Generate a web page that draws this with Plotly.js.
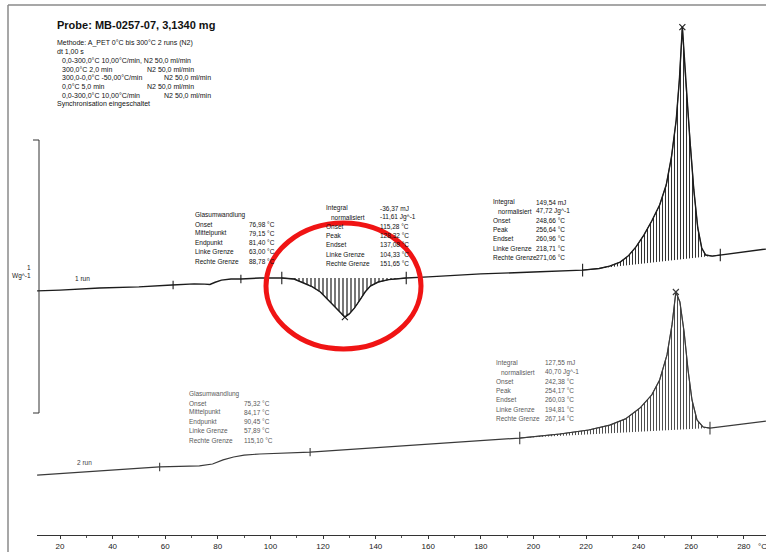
<!DOCTYPE html>
<html>
<head>
<meta charset="utf-8">
<script src="https://cdn.plot.ly/plotly-3.0.1.min.js"></script>
<style>
  html, body { margin: 0; padding: 0; background: #fff; }
  #dsc { width: 766px; height: 552px; }
</style>
</head>
<body>
<div id="dsc"></div>
<script>
// DSC heating runs of sample MB-0257-07 (temperature in °C, heat flow in W/g, endo up)
const run1T = [11.3, 20, 35, 50, 62.6, 71, 75, 77, 79, 81.4, 85, 88.8, 96, 104.33, 109, 113, 116, 119, 122, 125, 127, 128.32, 130, 132, 134, 136, 138, 141, 145, 151.65, 160, 180, 200, 218.71, 225, 229, 233, 236, 239, 242, 245, 248, 250.5, 252.5, 254.3, 255.5, 256.64, 258, 259.5, 261, 262.5, 264, 265.5, 268, 271.06, 280, 288.4];
const run1W = [0.904, 0.907, 0.915, 0.919, 0.926, 0.930, 0.929, 0.928, 0.936, 0.944, 0.948, 0.948, 0.952, 0.952, 0.948, 0.933, 0.919, 0.900, 0.870, 0.837, 0.819, 0.807, 0.819, 0.841, 0.870, 0.900, 0.922, 0.937, 0.946, 0.952, 0.956, 0.967, 0.974, 0.981, 0.987, 0.996, 1.011, 1.033, 1.067, 1.111, 1.163, 1.222, 1.296, 1.400, 1.537, 1.685, 1.881, 1.667, 1.463, 1.278, 1.137, 1.063, 1.037, 1.033, 1.037, 1.048, 1.059];

const run2T = [11.3, 35, 57.89, 73, 78, 82, 86, 90, 96, 115.1, 150, 172, 194.81, 210, 221, 229, 235, 240.5, 245, 248, 250.8, 252.7, 254.17, 255.7, 257.3, 258.8, 260.3, 262.2, 264.5, 267.14, 278.6, 288.4];
const run2W = [0.222, 0.237, 0.252, 0.256, 0.263, 0.278, 0.289, 0.296, 0.300, 0.307, 0.330, 0.344, 0.359, 0.374, 0.389, 0.407, 0.430, 0.470, 0.519, 0.574, 0.667, 0.778, 0.900, 0.863, 0.752, 0.611, 0.500, 0.426, 0.400, 0.396, 0.411, 0.422];

// evaluated transitions
const run1Tg = { onset: 76.98, mid: 79.15, end: 81.40, left: 63.00, right: 88.78 };
const run1Cryst = { integral: -36.37, norm: -11.61, onset: 115.28, peak: 128.32, endset: 137.08, left: 104.33, right: 151.65 };
const run1Melt = { integral: 149.54, norm: 47.72, onset: 248.66, peak: 256.64, endset: 260.96, left: 218.71, right: 271.06 };
const run2Tg = { onset: 75.32, mid: 84.17, end: 90.45, left: 57.89, right: 115.10 };
const run2Melt = { integral: 127.55, norm: 40.70, onset: 242.38, peak: 254.17, endset: 260.03, left: 194.81, right: 267.14 };

const tickVals = [20, 40, 60, 80, 100, 120, 140, 160, 180, 200, 220, 240, 260, 280];

const headerTitle = "Probe: MB-0257-07, 3,1340 mg";
const headerLines = [
  ["Methode: A_PET 0°C bis 300°C 2 runs (N2)", ""],
  ["dt 1,00 s", ""],
  ["  0,0-300,0°C 10,00°C/min, N2 50,0 ml/min", ""],
  ["  300,0°C 2,0 min", "N2 50,0 ml/min"],
  ["  300,0-0,0°C -50,00°C/min", "N2 50,0 ml/min"],
  ["  0,0°C 5,0 min", "N2 50,0 ml/min"],
  ["  0,0-300,0°C 10,00°C/min", "N2 50,0 ml/min"],
  ["Synchronisation eingeschaltet", ""]
];

// ---- helpers -------------------------------------------------------------
const W = 766, H = 552, MB = 17, PH = H - MB;
const px = x => x / W;                 // page pixel -> paper x
const py = y => (PH - y) / PH;         // page pixel -> paper y
const fmt = (v, unit) => v.toFixed(2).replace('.', ',') + ' ' + unit;

function interp(T, Y, t) {
  for (let i = 0; i < T.length - 1; i++) {
    if (t >= T[i] && t <= T[i + 1]) {
      const f = (t - T[i]) / (T[i + 1] - T[i]);
      return Y[i] + f * (Y[i + 1] - Y[i]);
    }
  }
  return t < T[0] ? Y[0] : Y[Y.length - 1];
}
function segment(T, Y, lo, hi) {
  const xs = [lo], ys = [interp(T, Y, lo)];
  T.forEach((t, i) => { if (t > lo && t < hi) { xs.push(t); ys.push(Y[i]); } });
  xs.push(hi); ys.push(interp(T, Y, hi));
  return { x: xs, y: ys };
}
function hatch(T, Y, lo, hi, color, size) {
  const s = segment(T, Y, lo, hi);
  return {
    x: s.x, y: s.y, mode: 'lines', fill: 'toself', hoverinfo: 'skip',
    line: { color: color, width: 0.8 },
    fillcolor: 'rgba(0,0,0,0)',
    fillpattern: { shape: '|', size: size, solidity: 0.3, fgcolor: color, bgcolor: 'rgba(0,0,0,0)' },
    showlegend: false
  };
}
function markers(T, Y, temps, symbol, size, color) {
  return {
    x: temps, y: temps.map(t => interp(T, Y, t)), mode: 'markers', hoverinfo: 'skip',
    marker: { symbol: symbol, size: size, color: color, line: { color: color, width: 1.1 } },
    showlegend: false
  };
}

// ---- traces --------------------------------------------------------------
const ink1 = '#1c1c1c', ink2 = '#3a3a3a';
const traces = [
  hatch(run1T, run1W, run1Cryst.left, run1Cryst.right, ink1, 4),
  hatch(run1T, run1W, run1Melt.left, run1Melt.right, ink1, 3),
  hatch(run2T, run2W, run2Melt.left, run2Melt.right, ink2, 3),
  { x: run1T, y: run1W, mode: 'lines', line: { color: ink1, width: 1.4 }, hoverinfo: 'skip', showlegend: false },
  { x: run2T, y: run2W, mode: 'lines', line: { color: ink2, width: 1.2 }, hoverinfo: 'skip', showlegend: false },
  markers(run1T, run1W, [run1Cryst.left, run1Cryst.right, run1Melt.left, run1Melt.right], 'line-ns', 9, ink1),
  markers(run1T, run1W, [run1Tg.left, run1Tg.right], 'line-ns', 6, ink1),
  markers(run1T, run1W, [run1Cryst.peak, run1Melt.peak], 'x-thin', 6, ink1),
  markers(run2T, run2W, [run2Melt.left, run2Melt.right], 'line-ns', 9, ink2),
  markers(run2T, run2W, [run2Tg.left, run2Tg.right], 'line-ns', 6, ink2),
  markers(run2T, run2W, [run2Melt.peak], 'x-thin', 6, ink2)
];

// ---- text ----------------------------------------------------------------
const FONT = 'Liberation Sans, Arial, sans-serif';
const ann = [];
function txt(x, y, s, size, color, extra) {
  ann.push(Object.assign({
    xref: 'paper', yref: 'paper', x: px(x), y: py(y), text: s, showarrow: false,
    xanchor: 'left', yanchor: 'middle', font: { family: FONT, size: size, color: color }
  }, extra || {}));
}

txt(55, 25, '<b>' + headerTitle + '</b>', 11, '#111');
headerLines.forEach((row, i) => {
  const y = 43 + i * 8.7;
  txt(55, y, row[0].replace(/^  /, ''), 7, '#111', { x: px(row[0].startsWith('  ') ? 60 : 55) });
  if (row[1]) txt(i % 2 === 1 ? 145 : 162, y, row[1], 7, '#111');
});

function block(x0, x1, y0, rows, color) {
  rows.forEach((r, i) => {
    const y = y0 + i * 9.2;
    txt(r[2] ? x0 + 5 : x0, y, r[0], 6.5, color);
    if (r[1]) txt(x1, y, r[1], 6.5, color);
  });
}
block(193, 247, 215, [
  ['Glasumwandlung', ''],
  ['Onset', fmt(run1Tg.onset, '°C')],
  ['Mittelpunkt', fmt(run1Tg.mid, '°C')],
  ['Endpunkt', fmt(run1Tg.end, '°C')],
  ['Linke Grenze', fmt(run1Tg.left, '°C')],
  ['Rechte Grenze', fmt(run1Tg.right, '°C')]
], '#111');
block(324, 378, 208, [
  ['Integral', fmt(run1Cryst.integral, 'mJ')],
  ['normalisiert', fmt(run1Cryst.norm, 'Jg^-1'), true],
  ['Onset', fmt(run1Cryst.onset, '°C')],
  ['Peak', fmt(run1Cryst.peak, '°C')],
  ['Endset', fmt(run1Cryst.endset, '°C')],
  ['Linke Grenze', fmt(run1Cryst.left, '°C')],
  ['Rechte Grenze', fmt(run1Cryst.right, '°C')]
], '#111');
block(491, 534, 202, [
  ['Integral', fmt(run1Melt.integral, 'mJ')],
  ['normalisiert', fmt(run1Melt.norm, 'Jg^-1'), true],
  ['Onset', fmt(run1Melt.onset, '°C')],
  ['Peak', fmt(run1Melt.peak, '°C')],
  ['Endset', fmt(run1Melt.endset, '°C')],
  ['Linke Grenze', fmt(run1Melt.left, '°C')],
  ['Rechte Grenze', fmt(run1Melt.right, '°C')]
], '#111');
block(187, 242, 394, [
  ['Glasumwandlung', ''],
  ['Onset', fmt(run2Tg.onset, '°C')],
  ['Mittelpunkt', fmt(run2Tg.mid, '°C')],
  ['Endpunkt', fmt(run2Tg.end, '°C')],
  ['Linke Grenze', fmt(run2Tg.left, '°C')],
  ['Rechte Grenze', fmt(run2Tg.right, '°C')]
], '#5a5a5a');
block(494, 543, 363, [
  ['Integral', fmt(run2Melt.integral, 'mJ')],
  ['normalisiert', fmt(run2Melt.norm, 'Jg^-1'), true],
  ['Onset', fmt(run2Melt.onset, '°C')],
  ['Peak', fmt(run2Melt.peak, '°C')],
  ['Endset', fmt(run2Melt.endset, '°C')],
  ['Linke Grenze', fmt(run2Melt.left, '°C')],
  ['Rechte Grenze', fmt(run2Melt.right, '°C')]
], '#5a5a5a');

txt(73, 278, '1 run', 6.5, '#222');
txt(75, 462, '2 run', 6.5, '#444');
txt(33, 267, '1', 6.5, '#222', { xanchor: 'right' });
txt(33, 276, 'Wg^-1', 6.5, '#222', { xanchor: 'right' });
txt(756, 546, '°C', 8, '#222');

// ---- frame, scale bar and marking ring ------------------------------------
const shapes = [
  { type: 'line', xref: 'paper', yref: 'paper', x0: px(8), x1: px(766), y0: py(5), y1: py(5), line: { color: '#8a8a8a', width: 1.5 } },
  { type: 'line', xref: 'paper', yref: 'paper', x0: px(8), x1: px(8), y0: py(5), y1: py(552), line: { color: '#8a8a8a', width: 1.5 } },
  { type: 'path', xref: 'paper', yref: 'paper',
    path: `M ${px(33)} ${py(140)} L ${px(39)} ${py(140)} L ${px(39)} ${py(413)} L ${px(33)} ${py(413)}`,
    line: { color: '#333', width: 1 } },
  { type: 'circle', xref: 'paper', yref: 'paper', x0: px(266), x1: px(421), y0: py(223), y1: py(349),
    line: { color: '#f01414', width: 5 }, layer: 'above' }
];

const layout = {
  width: W, height: H,
  margin: { l: 0, r: 0, t: 0, b: MB },
  paper_bgcolor: '#fff', plot_bgcolor: '#fff',
  showlegend: false,
  xaxis: {
    domain: [37 / W, 1],
    range: [20 - 23 / 2.63, 20 + 706 / 2.63],
    tickvals: tickVals, ticktext: tickVals.map(String),
    ticks: 'outside', ticklen: 3, tickwidth: 1, tickcolor: '#333',
    minor: { dtick: 10, tick0: 0, ticks: 'outside', ticklen: 2, tickcolor: '#555' },
    showline: true, linecolor: '#333', linewidth: 1.2,
    showgrid: false, zeroline: false,
    tickfont: { family: FONT, size: 8, color: '#222' }
  },
  yaxis: { range: [0, PH / 270], visible: false, showgrid: false, zeroline: false },
  annotations: ann,
  shapes: shapes
};

Plotly.newPlot('dsc', traces, layout, { staticPlot: true, displayModeBar: false });
</script>
</body>
</html>
